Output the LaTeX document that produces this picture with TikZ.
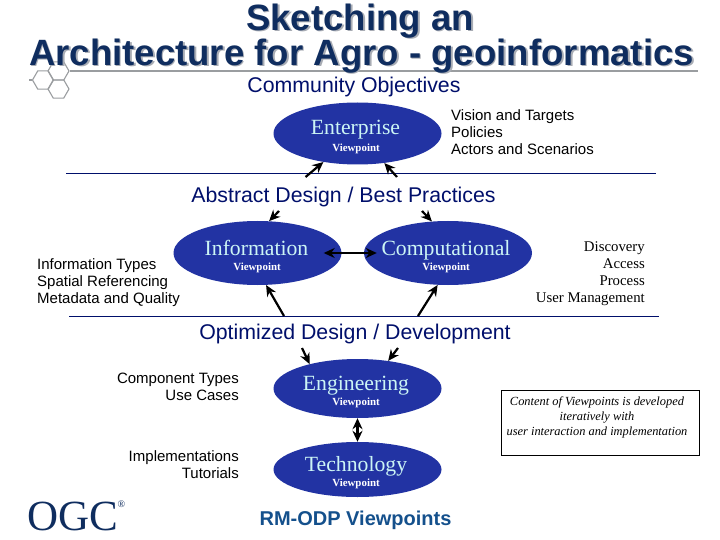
\documentclass[tikz,border=0pt]{standalone}
\usepackage{fontspec}
\setmainfont{Liberation Serif}
\setsansfont{Liberation Sans}
\usetikzlibrary{shapes.geometric, arrows.meta, positioning}
\definecolor{titlenavy}{HTML}{0F2D5F}
\definecolor{titleshadow}{HTML}{A8ACB4}
\definecolor{headnavy}{HTML}{000F6B}
\definecolor{ellblue}{HTML}{2233A3}
\definecolor{ellcyan}{HTML}{CCF5F5}
\definecolor{hexgray}{HTML}{9A9DA0}
\definecolor{odpblue}{HTML}{14508C}
\newcommand{\shadowed}[1]{\leavevmode\rlap{\hspace{1.6pt}\raisebox{-1.6pt}{\textcolor{titleshadow}{#1}}}\textcolor{titlenavy}{#1}}
\tikzset{
  viewell/.style={ellipse,fill=ellblue,draw=none,inner sep=0pt,minimum width=168pt},
  vptitle/.style={text=ellcyan,font=\fontsize{21.7}{22}\selectfont,inner sep=0pt},
  vpsub/.style={text=white,font=\fontsize{10.9}{11}\selectfont\bfseries,inner sep=0pt},
  heading/.style={text=headnavy,font=\sffamily\fontsize{21.3}{22}\selectfont,inner sep=0pt},
  titletext/.style={font=\sffamily\bfseries\fontsize{36.6}{38}\selectfont,inner sep=0pt},
  sidesans/.style={font=\sffamily\fontsize{15}{17}\selectfont,inner sep=0pt},
  sideserif/.style={font=\fontsize{14.8}{17}\selectfont,inner sep=0pt},
  hexcell/.style={regular polygon,regular polygon sides=6,minimum size=21pt,inner sep=0pt,draw=hexgray,line width=1.1pt},
  flow/.style={-{Stealth[length=11pt,width=10pt]},line width=2.2pt},
  twoway/.style={{Stealth[length=11pt,width=10pt]}-{Stealth[length=11pt,width=10pt]},line width=2.2pt},
  divider/.style={draw=headnavy,line width=0.9pt}
}
\begin{document}
\begin{tikzpicture}[x=1pt,y=-1pt]
  \fill[white,use as bounding box] (0,0) rectangle (720,540);
  % logo cells and title rule
  \node[hexcell] (hexa) at (43,80) {};
  \node[hexcell] (hexb) at (58.5,71) {};
  \node[hexcell] (hexc) at (58.5,89) {};
  \coordinate (stub) at (29,80);
  \coordinate (ruleend) at (698,71);
  \draw[hexgray,line width=1.1pt] (stub) -- (hexa.west);
  \draw[hexgray,line width=1.4pt] (hexb.east) -- (ruleend);
  % title
  \node[titletext] (title1) at (360,21.5) {\shadowed{Sketching an}};
  \node[titletext] (title2) at (361.5,56.5) {\shadowed{Architecture for Agro - geoinformatics}};
  % headings
  \node[heading] (community) at (354,87) {Community Objectives};
  \node[heading] (abstract) at (343.5,197) {Abstract Design / Best Practices};
  \node[heading] (optimized) at (355,334) {Optimized Design / Development};
  \node[heading,text=odpblue,font=\sffamily\bfseries\fontsize{20}{20}\selectfont] (odp) at (355.5,520) {RM-ODP Viewpoints};
  % viewpoints
  \node[viewell,minimum height=62pt] (ent) at (357.5,133.5) {};
  \node[viewell,minimum height=64pt] (inf) at (257.5,253) {};
  \node[viewell,minimum height=64pt] (comp) at (448,253) {};
  \node[viewell,minimum height=59pt] (eng) at (357.5,388.5) {};
  \node[viewell,minimum height=55pt] (tech) at (357.5,469.5) {};
  \node[vptitle] (enttxt) at (355.5,130) {Enterprise};
  \node[vpsub] (entsub) at (356,149) {Viewpoint};
  \node[vptitle] (inftxt) at (256.5,248) {Information};
  \node[vpsub] (infsub) at (257,268) {Viewpoint};
  \node[vptitle] (comptxt) at (446,250) {Computational};
  \node[vpsub] (compsub) at (446,268) {Viewpoint};
  \node[vptitle] (engtxt) at (356,386) {Engineering};
  \node[vpsub] (engsub) at (356,403) {Viewpoint};
  \node[vptitle] (techtxt) at (356,466) {Technology};
  \node[vpsub] (techsub) at (356,483.5) {Viewpoint};
  % dividers
  \coordinate (d1a) at (66,173);
  \coordinate (d1b) at (656,173);
  \coordinate (d2a) at (69,316);
  \coordinate (d2b) at (659,316);
  \draw[divider] (d1a) -- (d1b);
  \draw[divider] (d2a) -- (d2b);
  % side lists
  \node[sidesans,align=left,anchor=west] (entlist) at (451,132) {Vision and Targets\\Policies\\Actors and Scenarios};
  \node[sidesans,align=left,anchor=west] (inflist) at (37,283) {Information Types\\Spatial Referencing\\Metadata and Quality};
  \node[sideserif,align=right,anchor=east] (complist) at (645,274) {Discovery\\Access\\Process\\User Management};
  \node[sidesans,align=right,anchor=east] (englist) at (239,386.5) {Component Types\\Use Cases};
  \node[sidesans,align=right,anchor=east] (techlist) at (239,464.5) {Implementations\\Tutorials};
  % note and logo
  \node[draw,line width=0.8pt,minimum width=198pt,minimum height=65pt,inner sep=0pt] (note) at (600.5,422.5) {};
  \node[inner sep=0pt,align=center,font=\itshape\fontsize{12.4}{15}\selectfont] (notetxt) at (597,417)
    {Content of Viewpoints is developed\\iteratively with\\user interaction and implementation};
  \node[text=titlenavy,font=\fontsize{43}{43}\selectfont,inner sep=0pt] (ogc) at (73,516) {OGC};
  \node[text=titlenavy,font=\fontsize{10}{10}\selectfont,inner sep=0pt,anchor=west] (reg) at (117.5,504) {\textregistered};
  % connectors
  \coordinate (a1) at (305.5,177);
  \coordinate (a2) at (397,177);
  \coordinate (a3) at (279,211);
  \coordinate (a4) at (422,211);
  \coordinate (a5) at (284,316);
  \coordinate (a6) at (418,316);
  \coordinate (a7) at (302,348);
  \coordinate (a8) at (398,348);
  \draw[flow] (a1) -- (ent);
  \draw[flow] (a2) -- (ent);
  \draw[flow] (a3) -- (inf.70);
  \draw[flow] (a4) -- (comp.117);
  \draw[flow] (a5) -- (inf.-75);
  \draw[flow] (a6) -- (comp.-108);
  \draw[flow] (a7) -- (eng.153);
  \draw[flow] (a8) -- (eng.42);
  \draw[twoway,shorten <=-18pt,shorten >=-13pt] (inf.east) -- (comp.west);
  \draw[twoway] (eng.south) -- (tech.north);
\end{tikzpicture}
\end{document}
